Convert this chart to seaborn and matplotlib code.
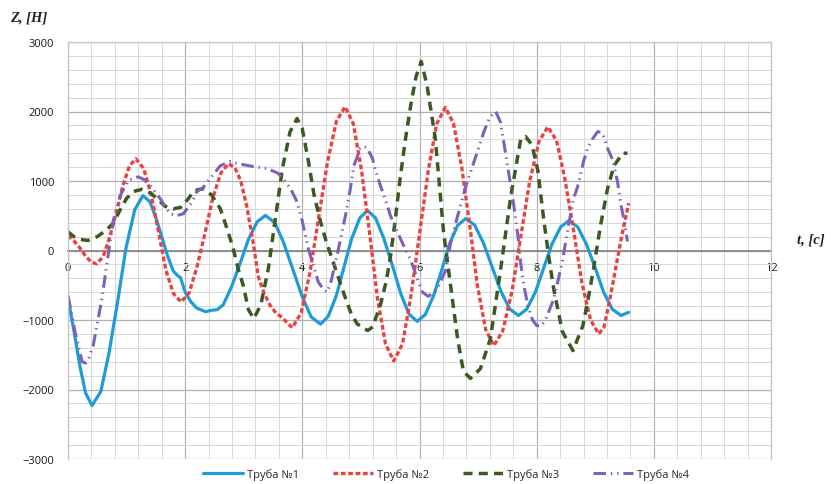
import pandas as pd
import matplotlib
matplotlib.use("Agg")
import matplotlib.pyplot as plt
from matplotlib.ticker import MultipleLocator
import seaborn as sns

# значения (t, c ; Z, Н)
blue_t = [0, 0.1, 0.2, 0.3, 0.41, 0.56, 0.70, 0.85, 0.99, 1.14, 1.28, 1.4, 1.5, 1.6, 1.7,
          1.8, 1.87, 1.92, 2.0, 2.1, 2.2, 2.35, 2.45, 2.55, 2.65, 2.79, 2.94, 3.08, 3.23, 3.37,
          3.53, 3.68, 3.84, 4.0, 4.15, 4.31, 4.44, 4.58, 4.71, 4.84, 4.98, 5.11, 5.25, 5.39, 5.54,
          5.68, 5.82, 5.96, 6.10, 6.24, 6.38, 6.51, 6.65, 6.79, 6.94, 7.09, 7.24, 7.39, 7.54, 7.69,
          7.83, 7.98, 8.12, 8.26, 8.41, 8.55, 8.70, 8.85, 9.00, 9.14, 9.29, 9.44, 9.57]
blue_z = [-680, -1150, -1650, -2050, -2230, -2030, -1475, -720, 35, 590, 790, 700, 470, 200, -80,
          -300, -360, -390, -600, -740, -830, -880, -860, -850, -780, -526, -180, 161, 413, 505,
          400, 114, -277, -669, -955, -1060, -950, -651, -242, 166, 465, 575, 468, 176, -222,
          -621, -913, -1020, -921, -650, -280, 90, 361, 460, 367, 111, -237, -586, -842, -935,
          -844, -594, -252, 89, 339, 430, 339, 89, -252, -594, -844, -935, -890]

red_t = [0, 0.1, 0.2, 0.3, 0.4, 0.49, 0.6, 0.71, 0.83, 0.94, 1.05, 1.16, 1.29, 1.42, 1.55,
         1.67, 1.8, 1.93, 2.07, 2.2, 2.34, 2.47, 2.61, 2.74, 2.85, 2.95, 3.05, 3.15, 3.25, 3.35,
         3.45, 3.55, 3.65, 3.75, 3.83, 3.98, 4.13, 4.28, 4.43, 4.58, 4.73, 4.87, 5.01, 5.15, 5.28,
         5.42, 5.56, 5.71, 5.85, 6.0, 6.15, 6.29, 6.44, 6.58, 6.72, 6.86, 6.99, 7.13, 7.27, 7.42,
         7.58, 7.73, 7.88, 8.04, 8.19, 8.34, 8.48, 8.63, 8.77, 8.92, 9.06, 9.15, 9.25, 9.35, 9.45,
         9.57]
red_z = [215, 140, 40, -80, -170, -190, -89, 188, 565, 943, 1219, 1320, 1182, 805, 250,
         -280, -620, -740, -607, -242, 255, 753, 1117, 1250, 1190, 1000, 640, 170, -380, -620,
         -790, -900, -960, -1050, -1110, -897, -315, 480, 1275, 1857, 2070, 1825, 1155, 240, -675,
         -1345, -1590, -1345, -677, 235, 1148, 1815, 2060, 1830, 1202, 345, -513, -1140, -1370, -1159,
         -582, 205, 993, 1569, 1780, 1580, 1035, 290, -455, -1000, -1200, -1100, -700, -250, 200,
         680]

green_t = [0, 0.1, 0.2, 0.34, 0.5, 0.65, 0.77, 0.9, 1.0, 1.12, 1.26, 1.4, 1.52, 1.65, 1.8,
           1.92, 2.05, 2.15, 2.3, 2.45, 2.6, 2.72, 2.82, 2.9, 2.99, 3.08, 3.17, 3.29, 3.42, 3.54,
           3.66, 3.79, 3.91, 4.0, 4.1, 4.2, 4.3, 4.4, 4.5, 4.6, 4.7, 4.82, 4.93, 5.04, 5.12,
           5.2, 5.33, 5.43, 5.5, 5.58, 5.67, 5.76, 5.85, 5.94, 6.03, 6.13, 6.27, 6.41, 6.53, 6.65,
           6.75, 6.87, 7.04, 7.21, 7.38, 7.56, 7.73, 7.81, 7.92, 8.02, 8.12, 8.2, 8.29, 8.44, 8.62,
           8.79, 8.9, 8.98, 9.09, 9.21, 9.32, 9.47, 9.55]
green_z = [270, 200, 160, 145, 200, 290, 390, 600, 750, 850, 880, 830, 750, 640, 600,
           620, 740, 860, 890, 800, 600, 300, 30, -250, -500, -850, -980, -787, -260, 460,
           1180, 1707, 1900, 1750, 1300, 800, 450, 150, -100, -350, -600, -880, -1050, -1120, -1150,
           -1100, -790, -450, -115, 400, 1040, 1600, 2090, 2500, 2720, 2370, 1610, 270, -500, -1270,
           -1740, -1840, -1700, -1270, -300, 790, 1610, 1640, 1520, 1150, 450, -50, -550, -1170, -1440,
           -1080, -600, -215, 360, 890, 1220, 1400, 1400]

purple_t = [0, 0.12, 0.24, 0.3, 0.36, 0.43, 0.5, 0.58, 0.66, 0.77, 0.89, 1.03, 1.2, 1.3, 1.4,
            1.57, 1.74, 1.85, 1.97, 2.12, 2.2, 2.3, 2.43, 2.6, 2.77, 2.9, 3.15, 3.4, 3.59, 3.66,
            3.8, 3.91, 4.0, 4.1, 4.19, 4.27, 4.36, 4.42, 4.48, 4.53, 4.58, 4.68, 4.75, 4.82, 4.88,
            4.99, 5.05, 5.11, 5.2, 5.25, 5.33, 5.45, 5.5, 5.62, 5.73, 5.85, 5.96, 6.05, 6.15, 6.25,
            6.33, 6.44, 6.53, 6.62, 6.7, 6.8, 6.9, 7.0, 7.1, 7.2, 7.3, 7.38, 7.44, 7.52, 7.61,
            7.68, 7.73, 7.78, 7.86, 7.93, 8.0, 8.07, 8.15, 8.22, 8.29, 8.36, 8.44, 8.53, 8.63, 8.7,
            8.8, 8.87, 8.95, 9.04, 9.1, 9.16, 9.21, 9.3, 9.38, 9.44, 9.5, 9.55]
purple_z = [-650, -1170, -1600, -1620, -1540, -1370, -1050, -690, -215, 420, 790, 1010, 1060, 1020, 940,
            750, 530, 500, 530, 700, 850, 900, 1040, 1220, 1280, 1250, 1210, 1180, 1110, 1040,
            890, 700, 420, 30, -215, -450, -560, -600, -480, -300, -115, 270, 560, 890, 1220,
            1470, 1500, 1470, 1320, 1150, 940, 650, 510, 270, 70, -140, -400, -600, -660, -600,
            -500, -300, 100, 400, 650, 950, 1200, 1450, 1710, 1920, 2000, 1850, 1550, 1130, 650,
            200, -200, -500, -830, -1000, -1080, -1090, -1000, -850, -700, -450, -150, 300, 750, 920,
            1280, 1470, 1600, 1710, 1700, 1620, 1470, 1300, 990, 650, 400, 130]

names = ["Труба №1", "Труба №2", "Труба №3", "Труба №4"]
colors = ["#1f9bd7", "#ec4141", "#3b5a22", "#7d62b8"]
styles = ["-", (0, (3.4, 1.9)), (0, (6.5, 4.5)), (0, (9, 3.5, 1, 3.5, 1, 3.5))]
widths = [2.3, 2.4, 2.5, 2.2]

sns.set_style("whitegrid")
plt.rcParams['font.family'] = ['Open Sans', 'DejaVu Sans']
plt.rcParams['lines.scale_dashes'] = False

fig = plt.figure(figsize=(8.31, 4.85), dpi=100)
ax = fig.add_axes([68 / 831, 25 / 485, 703 / 831, 417 / 485])

data = [(blue_t, blue_z), (red_t, red_z), (green_t, green_z), (purple_t, purple_z)]
for (t, z), name, c, ls, lw in zip(data, names, colors, styles, widths):
    df = pd.DataFrame({"t": t, "Z": z})
    sns.lineplot(data=df, x="t", y="Z", ax=ax, color=c, linewidth=lw,
                 label=name, estimator=None, sort=False)
    ax.lines[-1].set_linestyle(ls)

ax.set_xlim(0, 12)
ax.set_ylim(-3000, 3000)
ax.xaxis.set_major_locator(MultipleLocator(2))
ax.xaxis.set_minor_locator(MultipleLocator(0.4))
ax.yaxis.set_major_locator(MultipleLocator(1000))
ax.yaxis.set_minor_locator(MultipleLocator(200))
ax.grid(which="major", color="#b0b0b0", linewidth=0.9)
ax.grid(which="minor", color="#d8d8d8", linewidth=0.7)
ax.set_axisbelow(True)
ax.set_xlabel("")
ax.set_ylabel("")

for s in ["left", "top", "right"]:
    ax.spines[s].set_color("#c4c4c4")
    ax.spines[s].set_linewidth(0.9)
ax.spines["bottom"].set_position(("data", 0))
ax.spines["bottom"].set_color("#888888")
ax.spines["bottom"].set_linewidth(1.3)
ax.spines["bottom"].set_zorder(1)

ax.tick_params(axis="x", which="major", length=3, color="#888888", pad=5,
               labelsize=8, labelcolor="#1a1a1a")
ax.tick_params(axis="y", which="major", length=0, pad=10, labelsize=8, labelcolor="#1a1a1a")
ax.tick_params(which="minor", length=0)

fig.text(10 / 831, 1 - 18 / 485, "Z, [Н]", family="Liberation Serif", weight="bold",
         style="italic", fontsize=10.5, va="center", ha="left", color="#222222")
fig.text(797 / 831, 1 - 240 / 485, "t, [с]", family="Liberation Serif", weight="bold",
         style="italic", fontsize=10.5, va="center", ha="left", color="#222222")

handles, labels = ax.get_legend_handles_labels()
ax.get_legend().remove()
fig.legend(handles, labels, loc="center", bbox_to_anchor=(446 / 831, 1 - 475 / 485),
           ncol=4, frameon=False, fontsize=8, handlelength=3.6, columnspacing=3.0,
           handletextpad=0.4)

fig.savefig("out.png", dpi=100)
